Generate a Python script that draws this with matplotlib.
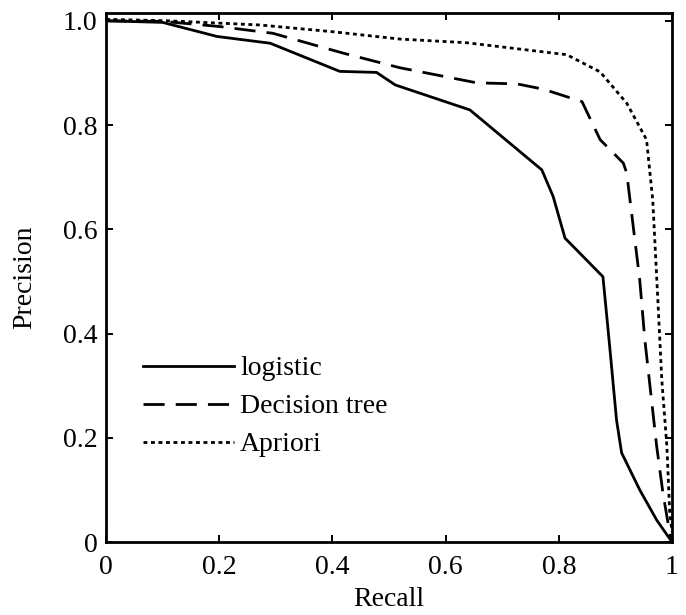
import matplotlib
matplotlib.use("Agg")
import matplotlib.pyplot as plt

# precision-recall points
logistic_recall = [0.0, 0.10, 0.196, 0.29, 0.413, 0.478, 0.511, 0.643, 0.770, 0.790,
                   0.811, 0.878, 0.890, 0.902, 0.911, 0.943, 0.973, 1.0]
logistic_prec = [1.0, 0.997, 0.970, 0.957, 0.903, 0.901, 0.877, 0.829, 0.714, 0.663,
                 0.583, 0.509, 0.374, 0.234, 0.171, 0.100, 0.042, 0.0]

tree_recall = [0.0, 0.10, 0.201, 0.295, 0.419, 0.519, 0.655, 0.726, 0.772, 0.841,
               0.873, 0.914, 0.920, 0.943, 0.952, 0.973, 0.984, 0.996, 1.0]
tree_prec = [1.0, 0.999, 0.989, 0.976, 0.938, 0.910, 0.881, 0.879, 0.869, 0.845,
             0.772, 0.727, 0.708, 0.503, 0.388, 0.183, 0.094, 0.017, 0.0]

apriori_recall = [0.0, 0.11, 0.272, 0.401, 0.519, 0.637, 0.814, 0.873, 0.920, 0.955,
                  0.966, 0.975, 0.982, 0.991, 0.996, 1.0]
apriori_prec = [1.003, 1.0, 0.992, 0.979, 0.965, 0.958, 0.935, 0.902, 0.842, 0.772,
                0.656, 0.464, 0.311, 0.183, 0.056, 0.02]

x_ticks = [0, 0.2, 0.4, 0.6, 0.8, 1.0]
x_ticklabels = ["0", "0.2", "0.4", "0.6", "0.8", "1"]
y_ticks = [0, 0.2, 0.4, 0.6, 0.8, 1.0]
y_ticklabels = ["0", "0.2", "0.4", "0.6", "0.8", "1.0"]

plt.rcParams["font.family"] = ["Liberation Serif", "DejaVu Serif"]
plt.rcParams["font.size"] = 20

fig = plt.figure(figsize=(6.86, 6.15), dpi=100)
ax = fig.add_axes([106 / 686, 73 / 615, 566 / 686, 529 / 615])

lw = 2.0
ax.plot(logistic_recall, logistic_prec, color="black", linewidth=lw, label="logistic")
ax.plot(tree_recall, tree_prec, color="black", linewidth=lw, dashes=(7.6, 4.0),
        label="Decision tree")
ax.plot(apriori_recall, apriori_prec, color="black", linewidth=lw, dashes=(1.4, 1.3),
        label="Apriori")

ax.set_xlim(0, 1.0)
ax.set_ylim(0, 1.015)
ax.set_xticks(x_ticks)
ax.set_xticklabels(x_ticklabels)
ax.set_yticks(y_ticks)
ax.set_yticklabels(y_ticklabels)
ax.tick_params(direction="in", length=5, width=1.4, top=True, right=True,
               labelsize=20, pad=6)
ax.tick_params(axis="x", pad=9)
for sp in ax.spines.values():
    sp.set_linewidth(2.0)

ax.set_xlabel("Recall")
ax.xaxis.set_label_coords(0.5, -0.085)
ax.set_ylabel("Precision")
ax.yaxis.set_label_coords(-0.122, 0.5)

leg = ax.legend(loc="lower left", frameon=False, handlelength=3.3, handletextpad=0.2,
                labelspacing=0.45, borderaxespad=0.0, borderpad=0.0, fontsize=20)
leg.set_bbox_to_anchor((0.065, 0.16), transform=ax.transAxes)

fig.savefig("out.png", dpi=100)
